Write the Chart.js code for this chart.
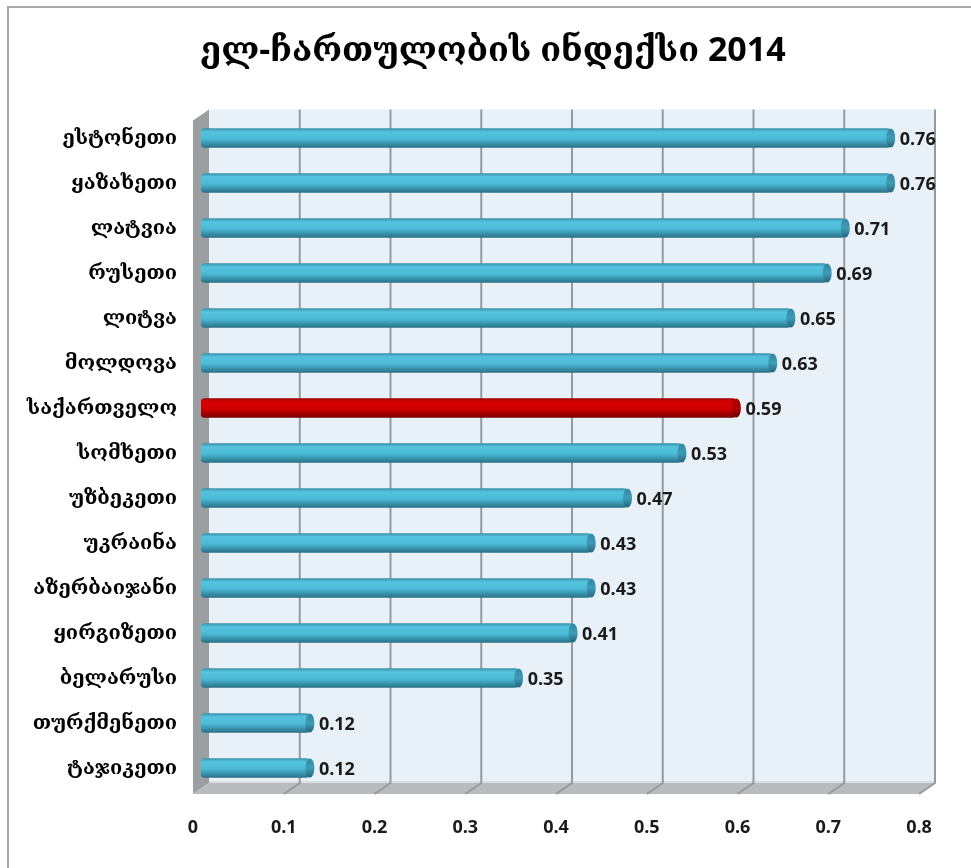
<!DOCTYPE html>
<html>
<head>
<meta charset="utf-8">
<script src="https://cdn.jsdelivr.net/npm/chart.js@4.4.1/dist/chart.umd.min.js"></script>
<style>
  html, body { margin: 0; padding: 0; background: #fff; }
  #wrap { width: 971px; height: 868px; }
</style>
</head>
<body>
<div id="wrap"><canvas id="myChart" width="971" height="868"></canvas></div>
<script>
// data
const countries = ["ესტონეთი", "ყაზახეთი", "ლატვია", "რუსეთი", "ლიტვა", "მოლდოვა", "საქართველო",
  "სომხეთი", "უზბეკეთი", "უკრაინა", "აზერბაიჯანი", "ყირგიზეთი", "ბელარუსი", "თურქმენეთი", "ტაჯიკეთი"];
const eIndex = [0.76, 0.76, 0.71, 0.69, 0.65, 0.63, 0.59, 0.53, 0.47, 0.43, 0.43, 0.41, 0.35, 0.12, 0.12];
const xTicks = [0, 0.1, 0.2, 0.3, 0.4, 0.5, 0.6, 0.7, 0.8];
const highlight = "საქართველო";
const chartTitle = "ელ-ჩართულობის ინდექსი 2014";

const FONT = "'Open Sans', 'DejaVu Serif'";
const DEPTH_X = 8, DEPTH_Y = 11; // half depth of the 3d box
const BAR_H = 19;

function barFill(context) {
  const chart = context.chart;
  const y = chart.scales.y ? chart.scales.y.getPixelForValue(context.dataIndex) : NaN;
  const red = countries[context.dataIndex] === highlight;
  if (!isFinite(y)) return red ? '#d00000' : '#4bbad6';
  const g = chart.ctx.createLinearGradient(0, y - BAR_H / 2, 0, y + BAR_H / 2);
  if (red) {
    g.addColorStop(0, '#a00000');
    g.addColorStop(0.15, '#d40000');
    g.addColorStop(0.55, '#d00000');
    g.addColorStop(1, '#7a0000');
  } else {
    g.addColorStop(0, '#3a93aa');
    g.addColorStop(0.18, '#56c4df');
    g.addColorStop(0.55, '#4bbad6');
    g.addColorStop(1, '#2a7187');
  }
  return g;
}

// 3d box: back wall, left wall, floor, grid
const box3d = {
  id: 'box3d',
  afterLayout(chart) {
    // centre the title a bit right of the canvas middle, like the original
    if (chart.titleBlock) {
      chart.titleBlock.left = 59;
      chart.titleBlock.right = 927;
    }
  },
  beforeDraw(chart) {
    const { ctx, chartArea: a, scales: { x } } = chart;
    ctx.save();
    ctx.fillStyle = '#fff';
    ctx.fillRect(0, 0, chart.width, chart.height);
    // outer frame
    ctx.strokeStyle = '#a6a6a6';
    ctx.lineWidth = 2;
    ctx.strokeRect(8, 7, chart.width + 20, chart.height + 20);

    const x0 = x.getPixelForValue(0), x1 = x.getPixelForValue(0.8);
    const top = a.top - 6, bottom = a.bottom - 2;
    const bx0 = x0 + DEPTH_X, bx1 = x1 + DEPTH_X;
    const fx0 = x0 - DEPTH_X, fx1 = x1 - DEPTH_X;
    const by = bottom - DEPTH_Y / 2, fy = bottom + DEPTH_Y / 2;

    // back wall
    ctx.fillStyle = '#e9f1f8';
    ctx.fillRect(bx0, top, bx1 - bx0, by - top);
    // left wall
    ctx.fillStyle = '#9c9fa1';
    ctx.beginPath();
    ctx.moveTo(fx0, top + DEPTH_Y);
    ctx.lineTo(bx0, top);
    ctx.lineTo(bx0, by);
    ctx.lineTo(fx0, fy);
    ctx.closePath();
    ctx.fill();
    // floor
    ctx.fillStyle = '#b9bcbe';
    ctx.beginPath();
    ctx.moveTo(fx0, fy);
    ctx.lineTo(bx0, by);
    ctx.lineTo(bx1, by);
    ctx.lineTo(fx1, fy);
    ctx.closePath();
    ctx.fill();
    ctx.fillStyle = '#dcdfe1';
    ctx.fillRect(bx0, by - 2, bx1 - bx0, 2);

    // grid lines on back wall and floor
    ctx.strokeStyle = '#979a9c';
    ctx.lineWidth = 2;
    xTicks.forEach(v => {
      if (v === 0) return;
      const px = x.getPixelForValue(v);
      ctx.beginPath();
      ctx.moveTo(px + DEPTH_X, top);
      ctx.lineTo(px + DEPTH_X, by);
      ctx.lineTo(px - DEPTH_X, fy);
      ctx.stroke();
    });
    ctx.restore();
  }
};

// cylinder caps and value labels
const barDecor = {
  id: 'barDecor',
  afterDatasetsDraw(chart) {
    const { ctx } = chart;
    const meta = chart.getDatasetMeta(0);
    ctx.save();
    meta.data.forEach((bar, i) => {
      const red = countries[i] === highlight;
      const h = bar.height;
      const g = ctx.createLinearGradient(0, bar.y - h / 2, 0, bar.y + h / 2);
      g.addColorStop(0, red ? '#9a0000' : '#3585a0');
      g.addColorStop(0.5, red ? '#b00000' : '#3f9db8');
      g.addColorStop(1, red ? '#6a0000' : '#256479');
      ctx.fillStyle = g;
      ctx.beginPath();
      ctx.ellipse(bar.x, bar.y, 4.5, h / 2, 0, 0, Math.PI * 2);
      ctx.fill();

      ctx.fillStyle = '#1a1a1a';
      ctx.font = 'bold 18px ' + FONT;
      ctx.textAlign = 'left';
      ctx.textBaseline = 'middle';
      ctx.fillText(eIndex[i].toFixed(2), bar.x + 9, bar.y + 2);
    });
    ctx.restore();
  }
};

const ctx = document.getElementById('myChart').getContext('2d');
const chart = new Chart(ctx, {
  type: 'bar',
  data: {
    labels: countries,
    datasets: [{
      data: eIndex,
      backgroundColor: barFill,
      borderWidth: 0,
      borderRadius: 4,
      borderSkipped: false,
      barThickness: BAR_H
    }]
  },
  options: {
    indexAxis: 'y',
    responsive: false,
    animation: false,
    layout: { padding: { left: 0, right: 44, top: 0, bottom: 0 } },
    plugins: {
      legend: { display: false },
      tooltip: { enabled: false },
      title: {
        display: true,
        text: chartTitle,
        color: '#000',
        font: { family: FONT, size: 34, weight: 'bold', lineHeight: 1.2 },
        padding: { top: 31, bottom: 43.7 }
      }
    },
    scales: {
      x: {
        min: 0,
        max: 0.8,
        afterBuildTicks(scale) { scale.ticks = xTicks.map(v => ({ value: v })); },
        afterFit(scale) { scale.height = 77.5; },
        grid: { display: false, drawTicks: false },
        border: { display: false },
        ticks: {
          padding: 27,
          labelOffset: -8,
          color: '#1a1a1a',
          font: { family: FONT, size: 18, weight: 'bold' },
          callback: v => String(v)
        }
      },
      y: {
        afterFit(scale) { scale.width = 201; },
        grid: { display: false, drawTicks: false },
        border: { display: false },
        ticks: {
          padding: 24,
          color: '#000',
          font: { family: FONT, size: 20, weight: 'bold' }
        }
      }
    }
  },
  plugins: [box3d, barDecor]
});
</script>
</body>
</html>
